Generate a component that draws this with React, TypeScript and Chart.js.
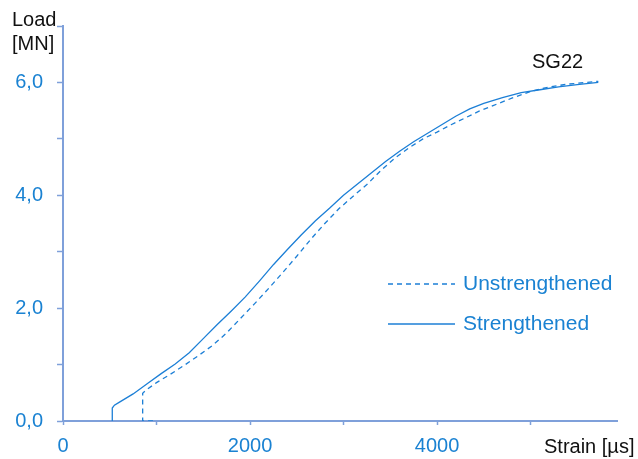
import React, { useEffect, useRef } from "react";
import { Chart, registerables } from "chart.js";

Chart.register(...registerables);

// Strengthened (solid): strain [µs], load [MN]
const strengthenedStrain = [527, 527, 550, 600, 750, 900, 1050, 1200, 1350, 1500, 1650, 1800, 1950, 2100, 2250, 2400, 2550, 2700, 2850, 3000, 3150, 3300, 3450, 3600, 3750, 3900, 4050, 4200, 4350, 4500, 4700, 4900, 5100, 5300, 5500, 5725];
const strengthenedLoad = [0, 0.23, 0.28, 0.33, 0.48, 0.66, 0.84, 1.01, 1.21, 1.46, 1.71, 1.95, 2.2, 2.48, 2.77, 3.04, 3.3, 3.55, 3.77, 4.0, 4.2, 4.4, 4.6, 4.78, 4.95, 5.1, 5.25, 5.4, 5.53, 5.63, 5.73, 5.82, 5.87, 5.92, 5.96, 6.0];

// Unstrengthened (dashed)
const unstrengthenedStrain = [963, 852, 852, 890, 1000, 1150, 1300, 1450, 1600, 1750, 1900, 2050, 2200, 2350, 2500, 2650, 2800, 2950, 3100, 3250, 3400, 3550, 3700, 3850, 4000, 4150, 4300, 4450, 4600, 4800, 5000, 5200, 5400, 5600, 5725];
const unstrengthenedLoad = [0, 0, 0.49, 0.55, 0.68, 0.83, 0.99, 1.16, 1.34, 1.56, 1.82, 2.08, 2.35, 2.63, 2.92, 3.22, 3.5, 3.76, 3.98, 4.19, 4.44, 4.66, 4.84, 5.0, 5.12, 5.25, 5.37, 5.49, 5.59, 5.72, 5.84, 5.92, 5.97, 6.0, 6.02];

const xTicks = [0, 1000, 2000, 3000, 4000, 5000];
const xLabeled = [0, 2000, 4000];
const yTicks = [0, 1, 2, 3, 4, 5, 6, 7];
const yLabeled = [0, 2, 4, 6];

const seriesNames = ["Unstrengthened", "Strengthened"];
const chartTitle = "SG22";
const yTitle = ["Load", "[MN]"];
const xTitle = "Strain [µs]";

const LINE = "#1c7fd6";
const TXT = "#1a82d2";
const AXIS = "#7fa0da";
const FONT = "'Liberation Sans', Arial, sans-serif";

const toPts = (xs: number[], ys: number[]) => xs.map((x, i) => ({ x, y: ys[i] }));

export default function App() {
  const ref = useRef<HTMLCanvasElement | null>(null);
  useEffect(() => {
    if (!ref.current) return;
    const annot = {
      id: "annot",
      afterDraw(chart: any) {
        const ctx = chart.ctx;
        ctx.save();
        ctx.font = `20px ${FONT}`;
        ctx.textBaseline = "alphabetic";
        ctx.textAlign = "left";
        ctx.fillStyle = "#111";
        ctx.fillText(yTitle[0], 12, 26);
        ctx.fillText(yTitle[1], 12, 50);
        ctx.fillText(chartTitle, 532, 67.5);
        ctx.fillText(xTitle, 544, 453);
        // legend
        ctx.strokeStyle = LINE;
        ctx.lineWidth = 1.3;
        ctx.setLineDash([5, 4]);
        ctx.beginPath();
        ctx.moveTo(388, 284);
        ctx.lineTo(455, 284);
        ctx.stroke();
        ctx.setLineDash([]);
        ctx.beginPath();
        ctx.moveTo(388, 324);
        ctx.lineTo(455, 324);
        ctx.stroke();
        ctx.font = `21px ${FONT}`;
        ctx.fillStyle = TXT;
        ctx.textBaseline = "middle";
        ctx.fillText(seriesNames[0], 463, 284);
        ctx.fillText(seriesNames[1], 463, 324);
        ctx.restore();
      },
    };
    const chart = new Chart(ref.current, {
      type: "line",
      data: {
        datasets: [
          {
            label: seriesNames[0],
            data: toPts(unstrengthenedStrain, unstrengthenedLoad),
            borderColor: LINE,
            borderWidth: 1.3,
            borderDash: [5, 4],
            pointRadius: 0,
            tension: 0,
            fill: false,
          },
          {
            label: seriesNames[1],
            data: toPts(strengthenedStrain, strengthenedLoad),
            borderColor: LINE,
            borderWidth: 1.3,
            pointRadius: 0,
            tension: 0,
            fill: false,
          },
        ],
      },
      options: {
        animation: false,
        responsive: false,
        devicePixelRatio: 1,
        layout: { padding: { top: 25, right: 21, left: 0, bottom: 0 } },
        plugins: { legend: { display: false }, tooltip: { enabled: false }, title: { display: false } },
        scales: {
          x: {
            type: "linear",
            min: 0,
            max: 5925,
            afterBuildTicks: (s: any) => { s.ticks = xTicks.map((v) => ({ value: v })); },
            afterFit: (s: any) => { s.height = 38; },
            border: { display: true, color: AXIS, width: 2 },
            grid: { display: true, drawOnChartArea: false, drawTicks: true, tickLength: 4, tickColor: AXIS, tickWidth: 1.5 },
            ticks: {
              autoSkip: false,
              maxRotation: 0,
              padding: 9,
              color: TXT,
              font: { size: 20, family: FONT },
              callback: (v: any) => (xLabeled.includes(Number(v)) ? String(v) : ""),
            },
          },
          y: {
            type: "linear",
            min: 0,
            max: 7,
            afterBuildTicks: (s: any) => { s.ticks = yTicks.map((v) => ({ value: v })); },
            afterFit: (s: any) => { s.width = 63; },
            border: { display: true, color: AXIS, width: 2 },
            grid: { display: true, drawOnChartArea: false, drawTicks: true, tickLength: 6, tickColor: AXIS, tickWidth: 1.5 },
            ticks: {
              autoSkip: false,
              padding: 14,
              color: TXT,
              font: { size: 20, family: FONT },
              callback: (v: any) => (yLabeled.includes(Number(v)) ? Number(v).toFixed(1).replace(".", ",") : ""),
            },
          },
        },
      },
      plugins: [annot],
    } as any);
    return () => chart.destroy();
  }, []);
  return (
    <div style={{ position: "fixed", left: 0, top: 0, width: 638, height: 459, background: "#fff" }}>
      <canvas ref={ref} width={638} height={459} />
    </div>
  );
}
